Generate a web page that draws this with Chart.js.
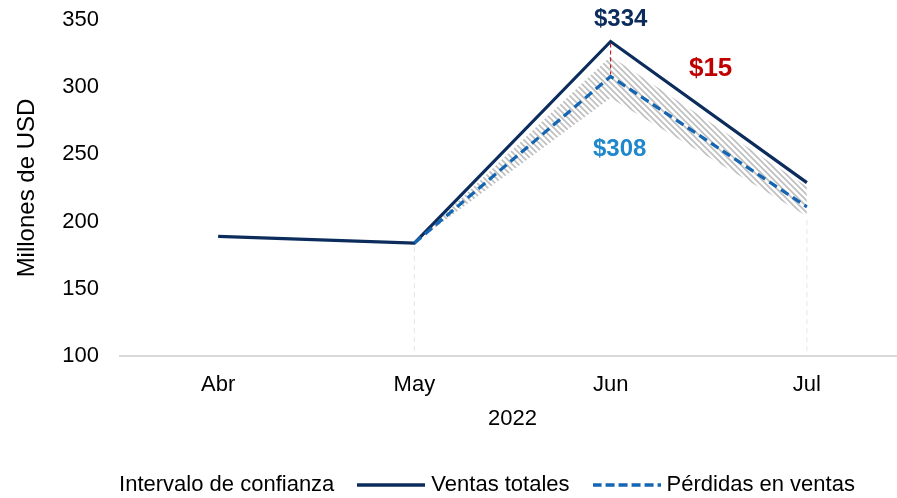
<!DOCTYPE html>
<html lang="es">
<head>
<meta charset="utf-8">
<title>Ventas totales y pérdidas en ventas, 2022</title>
<script src="https://cdn.jsdelivr.net/npm/chart.js@4.4.1/dist/chart.umd.min.js"></script>
<style>
    html, body { margin: 0; padding: 0; background: #fff; overflow: hidden; }
    #wrap { position: relative; width: 905px; height: 498px; }
</style>
</head>
<body>
<div id="wrap"><canvas id="chart"></canvas></div>
<script>
// months of 2022
const meses = ['Abr', 'May', 'Jun', 'Jul'];

// millones de USD
const ventasTotales = [189, 184, 334, 229];
const perdidasVentas = [null, 184, 308, 211];

// confidence band around the losses estimate
const intervaloSup = [null, 184, 323, 226];
const intervaloInf = [null, 184, 292, 204];
const margenJun = 15;

const yTicks = [100, 150, 200, 250, 300, 350];

const NAVY = '#0c2c5c';
const BLUE = '#1465b2';
const LIGHT_BLUE = '#1f87cc';
const RED = '#c00000';
const FONT = 'Arial, "Liberation Sans", sans-serif';

/**
 * Diagonal grey hatch used to fill the confidence band
 */
function make_hatch() {
    const c = document.createElement('canvas');
    c.width = 6;
    c.height = 6;
    const ctx = c.getContext('2d');
    ctx.strokeStyle = 'rgba(155,155,155,0.65)';
    ctx.lineWidth = 1.6;
    ctx.beginPath();
    ctx.moveTo(-1, -1);
    ctx.lineTo(7, 7);
    ctx.moveTo(-4, 2);
    ctx.lineTo(2, 8);
    ctx.moveTo(2, -4);
    ctx.lineTo(8, 2);
    ctx.stroke();
    return ctx.createPattern(c, 'repeat');
}

/**
 * Small canvas used as legend symbol
 */
function make_legend_icon(color, dash) {
    const c = document.createElement('canvas');
    c.width = 68;
    c.height = 6;
    if (!color) return c;
    const ctx = c.getContext('2d');
    ctx.strokeStyle = color;
    ctx.lineWidth = 3.5;
    ctx.setLineDash(dash || []);
    ctx.beginPath();
    ctx.moveTo(0, 3);
    ctx.lineTo(68, 3);
    ctx.stroke();
    return c;
}

const legendIcons = {
    'Intervalo de confianza': make_legend_icon(null),
    'Ventas totales': make_legend_icon(NAVY),
    'Pérdidas en ventas': make_legend_icon(BLUE, [9, 4])
};
const legendOrder = ['Intervalo de confianza', 'Ventas totales', 'Pérdidas en ventas'];

// value labels, the red connector at Jun and the faint drop lines of the band
const annotations = {
    id: 'annotations',
    afterDatasetsDraw(chart) {
        const { ctx, scales: { x, y } } = chart;
        const area = chart.chartArea;

        ctx.save();

        // drop lines under the band
        ctx.strokeStyle = '#e4e4e4';
        ctx.lineWidth = 1;
        ctx.setLineDash([5, 4]);
        [1, 3].forEach(i => {
            ctx.beginPath();
            ctx.moveTo(x.getPixelForValue(i), y.getPixelForValue(intervaloInf[i]) + 4);
            ctx.lineTo(x.getPixelForValue(i), area.bottom);
            ctx.stroke();
        });

        // gap between total sales and losses in June
        const xj = x.getPixelForValue(2);
        const yTot = y.getPixelForValue(ventasTotales[2]);
        const yPer = y.getPixelForValue(perdidasVentas[2]);
        ctx.strokeStyle = RED;
        ctx.lineWidth = 1;
        ctx.setLineDash([4, 3]);
        ctx.beginPath();
        ctx.moveTo(xj, yTot + 2);
        ctx.lineTo(xj, yPer - 2);
        ctx.stroke();
        ctx.setLineDash([]);

        ctx.textAlign = 'center';
        ctx.textBaseline = 'middle';

        ctx.font = 'bold 24px ' + FONT;
        ctx.fillStyle = NAVY;
        ctx.fillText('$' + ventasTotales[2], xj + 10, yTot - 22);

        ctx.fillStyle = LIGHT_BLUE;
        ctx.fillText('$' + perdidasVentas[2], xj + 9, yPer + 73);

        ctx.font = 'bold 26px ' + FONT;
        ctx.fillStyle = RED;
        ctx.fillText('$' + margenJun, xj + 100, yTot + 27);

        ctx.restore();
    }
};

const hatch = make_hatch();

new Chart(document.getElementById('chart').getContext('2d'), {
    type: 'line',
    data: {
        labels: meses,
        datasets: [
            {
                label: 'Pérdidas en ventas',
                data: perdidasVentas,
                borderColor: BLUE,
                borderWidth: 3.2,
                borderDash: [9, 5],
                pointRadius: 0,
                fill: false
            },
            {
                label: 'Ventas totales',
                data: ventasTotales,
                borderColor: NAVY,
                borderWidth: 3.2,
                pointRadius: 0,
                fill: false
            },
            {
                label: 'Intervalo de confianza',
                data: intervaloSup,
                borderWidth: 0,
                borderColor: 'rgba(0,0,0,0)',
                backgroundColor: hatch,
                pointRadius: 0,
                fill: '+1'
            },
            {
                label: 'inferior',
                data: intervaloInf,
                borderWidth: 0,
                borderColor: 'rgba(0,0,0,0)',
                pointRadius: 0,
                fill: false
            }
        ]
    },
    options: {
        responsive: true,
        maintainAspectRatio: false,
        animation: false,
        devicePixelRatio: 1,
        layout: {
            padding: { top: 20, right: 0, bottom: -8, left: 0 }
        },
        elements: {
            line: { tension: 0 }
        },
        scales: {
            x: {
                offset: true,
                afterFit: (scale) => {
                    scale.height = 90;
                },
                grid: { display: false, drawTicks: false },
                border: { display: true, color: '#d9d9d9', width: 2 },
                ticks: {
                    color: '#000',
                    padding: 16,
                    font: { family: FONT, size: 22 }
                },
                title: {
                    display: true,
                    text: '2022',
                    color: '#000',
                    font: { family: FONT, size: 22 },
                    padding: { top: 0, bottom: 14 }
                }
            },
            y: {
                min: 100,
                max: 350,
                afterBuildTicks: (scale) => {
                    scale.ticks = yTicks.map(v => ({ value: v }));
                },
                afterFit: (scale) => {
                    scale.width = 120;
                    scale.paddingTop = 0;
                    scale.paddingBottom = 0;
                },
                grid: { display: false, drawTicks: false },
                border: { display: false },
                ticks: {
                    color: '#000',
                    padding: 21,
                    font: { family: FONT, size: 22 }
                },
                title: {
                    display: true,
                    text: 'Millones de USD',
                    color: '#000',
                    font: { family: FONT, size: 24 },
                    padding: { top: 13, bottom: 0 }
                }
            }
        },
        plugins: {
            filler: { drawTime: 'beforeDatasetsDraw' },
            tooltip: { enabled: false },
            legend: {
                position: 'bottom',
                labels: {
                    color: '#000',
                    font: { family: FONT, size: 22 },
                    usePointStyle: true,
                    pointStyleWidth: 58,
                    boxHeight: 22,
                    padding: 28,
                    filter: (item) => legendOrder.includes(item.text),
                    sort: (a, b) => legendOrder.indexOf(a.text) - legendOrder.indexOf(b.text),
                    generateLabels: (chart) => {
                        const items = Chart.defaults.plugins.legend.labels.generateLabels(chart);
                        items.forEach(item => {
                            item.pointStyle = legendIcons[item.text];
                        });
                        return items;
                    }
                }
            }
        }
    },
    plugins: [annotations]
});
</script>
</body>
</html>
